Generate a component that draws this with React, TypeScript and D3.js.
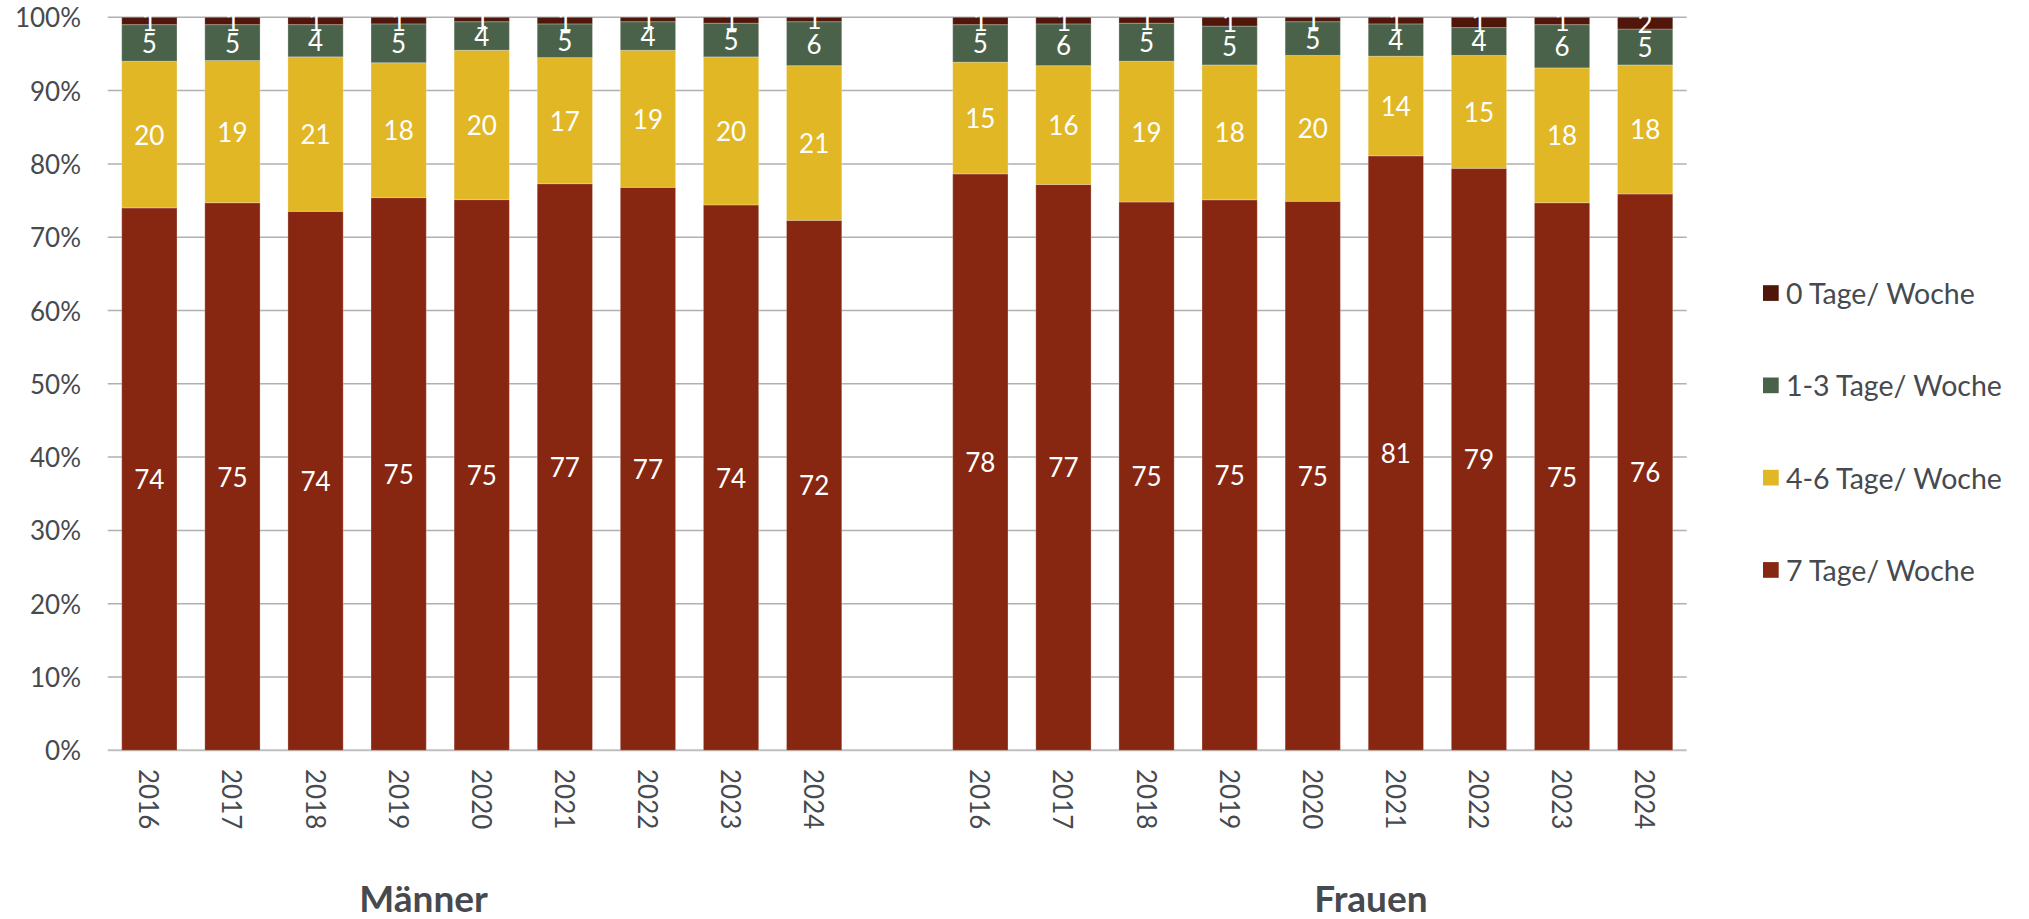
import * as d3 from "d3";

const years = ["2016", "2017", "2018", "2019", "2020", "2021", "2022", "2023", "2024"];
const groups = ["Männer", "Frauen"];
const seriesNames = ["7 Tage/ Woche", "4-6 Tage/ Woche", "1-3 Tage/ Woche", "0 Tage/ Woche"];
const seriesColors = ["#872712", "#e1b726", "#4b624a", "#4f1609"];

// percent values per year
const maenner7 = [74.0, 74.7, 73.6, 75.4, 75.2, 77.3, 76.8, 74.4, 72.3];
const maenner46 = [20.0, 19.4, 21.1, 18.4, 20.4, 17.2, 18.7, 20.2, 21.1];
const maenner13 = [5.0, 4.9, 4.4, 5.3, 3.9, 4.6, 3.9, 4.6, 6.0];
const maenner0 = [1.0, 1.0, 1.0, 0.9, 0.6, 0.9, 0.6, 0.8, 0.6];

const frauen7 = [78.4, 77.2, 74.8, 75.1, 74.9, 81.1, 79.4, 74.7, 75.9];
const frauen46 = [15.2, 16.2, 19.2, 18.4, 19.9, 13.6, 15.4, 18.4, 17.6];
const frauen13 = [5.1, 5.7, 5.2, 5.3, 4.6, 4.4, 3.8, 5.9, 4.9];
const frauen0 = [1.0, 0.9, 0.8, 1.2, 0.6, 0.9, 1.4, 1.0, 1.6];

const yTicks = [0, 0.1, 0.2, 0.3, 0.4, 0.5, 0.6, 0.7, 0.8, 0.9, 1];

type Row = { key: string; year: string; [s: string]: string | number };

function buildRows(): Row[] {
  const rows: Row[] = [];
  const push = (g: string, v: number[][]) => {
    years.forEach((y, i) => {
      const r: Row = { key: `${g}-${y}`, year: y };
      seriesNames.forEach((s, j) => (r[s] = v[j][i]));
      rows.push(r);
    });
  };
  push("M", [maenner7, maenner46, maenner13, maenner0]);
  // empty slot between the two groups
  const gap: Row = { key: "gap", year: "" };
  seriesNames.forEach((s) => (gap[s] = 0));
  rows.push(gap);
  push("F", [frauen7, frauen46, frauen13, frauen0]);
  return rows;
}

const W = 2029;
const H = 919;
const left = 107.8;
const right = 1686.7;
const top = 17.3;
const bottom = 750.3;
const textColor = "#464a4f";
const font = "Lato, 'Noto Sans', sans-serif";

export default function App() {
  const rows = buildRows();
  const x = d3
    .scaleBand<string>()
    .domain(rows.map((r) => r.key))
    .range([left, right])
    .paddingInner(0.335)
    .paddingOuter(0.1675);
  const y = d3.scaleLinear().domain([0, 1]).range([bottom, top]);
  const stack = d3
    .stack<Row>()
    .keys(seriesNames)
    .value((d, k) => d[k] as number)
    .offset(d3.stackOffsetExpand);
  const layers = stack(rows);
  const fmt = d3.format(".0%");
  const bars = rows.filter((r) => r.key !== "gap");

  return (
    <div style={{ position: "fixed", left: 0, top: 0 }}>
      <svg width={W} height={H} style={{ display: "block", background: "#fff" }}>
        {/* grid */}
        <g>
          {yTicks.map((t) => (
            <line
              key={t}
              x1={left}
              x2={right}
              y1={y(t)}
              y2={y(t)}
              stroke={t === 0 ? "#bfbfbf" : "#b0b0b0"}
              strokeWidth={t === 0 ? 2 : 1.5}
            />
          ))}
          {yTicks.map((t) => (
            <text
              key={"l" + t}
              x={81}
              y={y(t)}
              textAnchor="end"
              dominantBaseline="central"
              fontFamily={font}
              fontSize={26}
              fill={textColor}
            >
              {fmt(t)}
            </text>
          ))}
        </g>
        {/* bars */}
        {layers.map((layer, li) => (
          <g key={layer.key} fill={seriesColors[li]}>
            {layer
              .filter((d) => d.data.key !== "gap")
              .map((d) => (
                <rect
                  key={d.data.key}
                  x={x(d.data.key)}
                  width={x.bandwidth()}
                  y={y(d[1])}
                  height={y(d[0]) - y(d[1])}
                  stroke="#ffffff"
                  strokeOpacity={0.25}
                  strokeWidth={1}
                />
              ))}
          </g>
        ))}
        {/* data labels */}
        {layers.map((layer) => (
          <g key={"t" + layer.key}>
            {layer
              .filter((d) => d.data.key !== "gap")
              .map((d) => (
                <text
                  key={d.data.key}
                  x={(x(d.data.key) ?? 0) + x.bandwidth() / 2}
                  y={y((d[0] + d[1]) / 2)}
                  textAnchor="middle"
                  dominantBaseline="central"
                  fontFamily={font}
                  fontSize={26}
                  fill="#ffffff"
                >
                  {Math.round(d.data[layer.key] as number)}
                </text>
              ))}
          </g>
        ))}
        {/* year labels */}
        {bars.map((r) => {
          const cx = (x(r.key) ?? 0) + x.bandwidth() / 2;
          return (
            <text
              key={"y" + r.key}
              transform={`translate(${cx},769) rotate(90)`}
              dominantBaseline="central"
              fontFamily={font}
              fontSize={26}
              fill={textColor}
            >
              {r.year}
            </text>
          );
        })}
        {/* group labels */}
        {groups.map((g, i) => (
          <text
            key={g}
            x={left + (right - left) * (i === 0 ? 0.2 : 0.8)}
            y={912}
            textAnchor="middle"
            fontFamily={font}
            fontWeight="bold"
            fontSize={37}
            fill={textColor}
          >
            {g}
          </text>
        ))}
        {/* legend */}
        {seriesNames
          .map((s, i) => ({ s, c: seriesColors[i] }))
          .reverse()
          .map((d, i) => {
            const cy = 293 + i * 92.3;
            return (
              <g key={d.s}>
                <rect x={1763} y={cy - 7.8} width={15.7} height={15.7} fill={d.c} />
                <text
                  x={1786}
                  y={cy}
                  dominantBaseline="central"
                  fontFamily={font}
                  fontSize={28.5}
                  fill={textColor}
                >
                  {d.s}
                </text>
              </g>
            );
          })}
      </svg>
    </div>
  );
}
